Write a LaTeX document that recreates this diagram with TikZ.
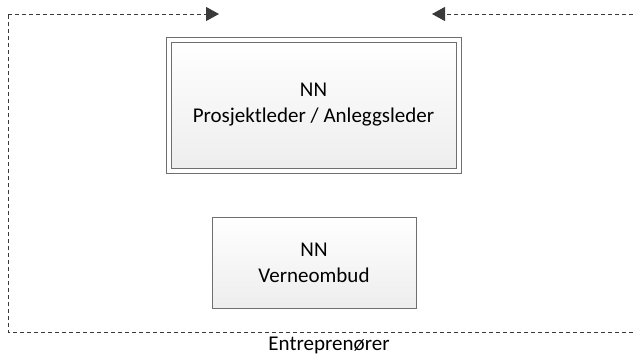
\documentclass[tikz,border=0pt]{standalone}
\usepackage{fontspec}
\setmainfont{Carlito}
\usetikzlibrary{arrows.meta}
\definecolor{dashgray}{HTML}{3A3A3A}
\definecolor{boxgray}{HTML}{6F6F6F}
\tikzset{
  rolebox/.style={draw=boxgray, line width=1pt, align=center,
    top color=white, bottom color=black!7, inner sep=0pt,
    font=\fontsize{21}{26}\selectfont},
  leadbox/.style={rolebox, double=white, double distance=4pt},
  scope line/.style={dashgray, line width=1pt, dash pattern=on 4pt off 3pt},
  scope tip/.style={-{Triangle[length=13pt,width=14pt]}}
}
\begin{document}
\begin{tikzpicture}[x=1pt,y=-1pt]
  \useasboundingbox (0,0) rectangle (633,356);
  % roles
  \node[leadbox, minimum width=290pt, minimum height=131pt] (PL) at (313.5,105) {NN\\Prosjektleder / Anleggsleder};
  \node[rolebox, minimum width=204pt, minimum height=91pt] (VO) at (314,262.5) {NN\\Verneombud};
  % entreprenor frame
  \coordinate (TL) at (8,14);
  \coordinate (TR) at (633,14);
  \coordinate (BR) at (633,332);
  \coordinate (inL) at (219,14);
  \coordinate (inR) at (432,14);
  \draw[scope line] (BR) -| (TL);
  \draw[scope line, scope tip] (TL) -- (inL);
  \draw[scope line, scope tip] (TR) -- (inR);
  \node[font=\fontsize{21}{26}\selectfont] (ENT) at (329,345) {Entreprenører};
\end{tikzpicture}
\end{document}
